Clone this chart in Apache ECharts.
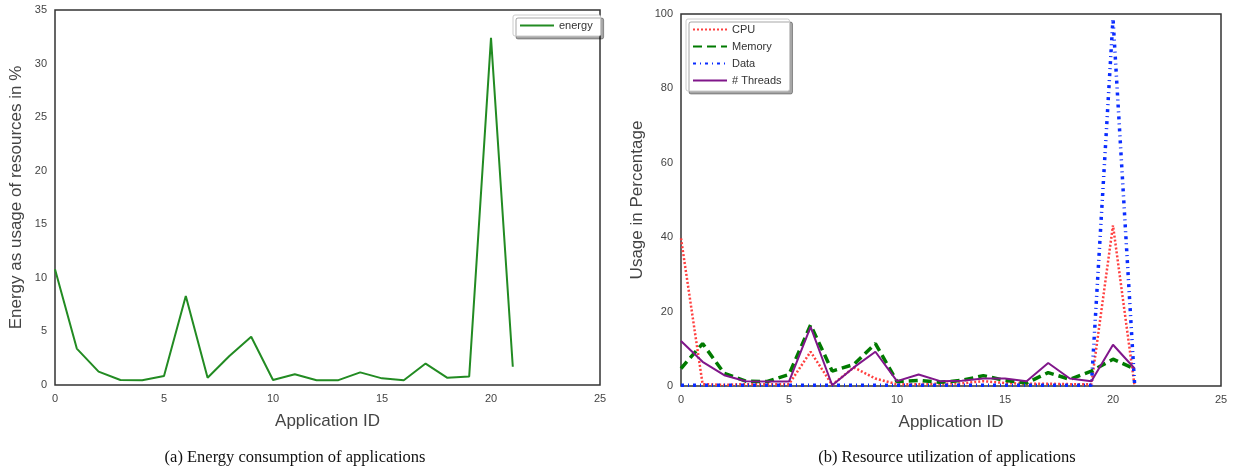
<!DOCTYPE html>
<html>
<head>
<meta charset="utf-8">
<script src="https://cdn.jsdelivr.net/npm/echarts@6/dist/echarts.min.js"></script>
<style>
  html, body { margin: 0; padding: 0; background: #fff; }
  #main { width: 1235px; height: 470px; }
</style>
</head>
<body>
<div id="main"></div>
<script>
// application ids 0..21
const appIds = [0, 1, 2, 3, 4, 5, 6, 7, 8, 9, 10, 11, 12, 13, 14, 15, 16, 17, 18, 19, 20, 21];

// (a) energy
const energy = [10.8, 3.4, 1.25, 0.47, 0.45, 0.84, 8.3, 0.68, 2.7, 4.5, 0.47, 1.0, 0.45, 0.45, 1.18, 0.62, 0.45, 2.0, 0.67, 0.8, 32.4, 1.7];

// (b) resource utilization
const cpu     = [39.7, 0.5, 0.3, 0.5, 0.5, 0.5, 9.2, 0.3, 5.0, 2.0, 0.5, 0.5, 0.6, 0.7, 1.3, 0.8, 0.6, 0.6, 0.5, 0.5, 43.2, 0.0];
const memory  = [4.7, 11.4, 3.4, 1.3, 1.2, 3.1, 16.4, 4.0, 5.8, 11.4, 1.2, 1.5, 1.0, 1.5, 2.8, 1.5, 0.8, 3.6, 1.8, 4.0, 7.2, 4.6];
const dataUse = [0.2, 0.2, 0.2, 0.2, 0.2, 0.2, 0.2, 0.2, 0.2, 0.2, 0.2, 0.2, 0.2, 0.2, 0.2, 0.2, 0.2, 0.2, 0.2, 0.2, 98.8, 0.5];
const threads = [12.1, 6.5, 2.9, 1.3, 1.2, 1.2, 15.9, 0.2, 5.0, 9.2, 1.3, 3.1, 1.3, 1.4, 2.0, 2.0, 1.3, 6.2, 2.0, 1.3, 11.1, 4.7];

const xTicks = { min: 0, max: 25, interval: 5 };

const pairs = (ys) => appIds.map((x, i) => [x, ys[i]]);

const sans = 'Liberation Sans, Arial, sans-serif';
const tickLabel = { color: '#444', fontSize: 11, fontFamily: sans, margin: 8 };
const axisName = { color: '#444', fontSize: 17, fontFamily: sans };

function xAxisFor(gridIndex) {
  return {
    type: 'value', gridIndex: gridIndex, min: xTicks.min, max: xTicks.max, interval: xTicks.interval,
    name: 'Application ID', nameLocation: 'middle', nameGap: 28, nameTextStyle: axisName,
    axisLine: { show: false }, axisTick: { show: false }, splitLine: { show: false },
    axisLabel: tickLabel
  };
}

function yAxisFor(gridIndex, max, interval, name, gap) {
  return {
    type: 'value', gridIndex: gridIndex, min: 0, max: max, interval: interval,
    name: name, nameLocation: 'middle', nameGap: gap, nameTextStyle: axisName,
    axisLine: { show: false }, axisTick: { show: false }, splitLine: { show: false },
    axisLabel: tickLabel
  };
}

function lineSeries(name, ys, xi, color, width, type) {
  return {
    name: name, type: 'line', xAxisIndex: xi, yAxisIndex: xi,
    data: pairs(ys), symbol: 'none', animation: false,
    itemStyle: { color: color },
    lineStyle: { color: color, width: width, type: type }
  };
}

const legendBox = {
  orient: 'vertical', backgroundColor: '#fff', borderColor: '#ccc', borderWidth: 1, borderRadius: 2,
  shadowBlur: 0, shadowColor: 'rgba(0,0,0,0.35)', shadowOffsetX: 3, shadowOffsetY: 3,
  padding: [5, 8, 5, 6], itemWidth: 34, itemHeight: 12, itemGap: 5,
  itemStyle: { opacity: 0 },
  textStyle: { color: '#333', fontSize: 11, fontFamily: sans }
};

const myChart = echarts.init(document.getElementById('main'), null, { renderer: 'canvas' });

const serif = 'Liberation Serif, Times New Roman, serif';

myChart.setOption({
  backgroundColor: '#fff',
  animation: false,
  title: [
    { text: '(a) Energy consumption of applications', left: 290, top: 444, textAlign: 'center',
      textStyle: { fontFamily: serif, fontSize: 16.5, fontWeight: 'normal', color: '#111' } },
    { text: '(b) Resource utilization of applications', left: 942, top: 444, textAlign: 'center',
      textStyle: { fontFamily: serif, fontSize: 16.5, fontWeight: 'normal', color: '#111' } }
  ],
  grid: [
    { left: 55, top: 10, width: 545, height: 375, show: true, borderColor: '#333', borderWidth: 1.5, backgroundColor: 'transparent' },
    { left: 681, top: 14, width: 540, height: 372, show: true, borderColor: '#333', borderWidth: 1.5, backgroundColor: 'transparent' }
  ],
  legend: [
    Object.assign({}, legendBox, { data: ['energy'], left: 513, top: 15 }),
    Object.assign({}, legendBox, { data: ['CPU', 'Memory', 'Data', '# Threads'], left: 686, top: 19, itemGap: 6 })
  ],
  xAxis: [xAxisFor(0), xAxisFor(1)],
  yAxis: [
    yAxisFor(0, 35, 5, 'Energy as usage of resources in %', 30),
    yAxisFor(1, 100, 20, 'Usage in Percentage', 35)
  ],
  series: [
    lineSeries('energy', energy, 0, '#228b22', 2, 'solid'),
    lineSeries('CPU', cpu, 1, '#ff4040', 2.5, [2, 2]),
    lineSeries('Memory', memory, 1, '#007a00', 3.5, [9, 5]),
    lineSeries('Data', dataUse, 1, '#0a2cff', 3.5, [3, 4, 1, 4]),
    lineSeries('# Threads', threads, 1, '#80168a', 2, 'solid')
  ]
});
</script>
</body>
</html>
